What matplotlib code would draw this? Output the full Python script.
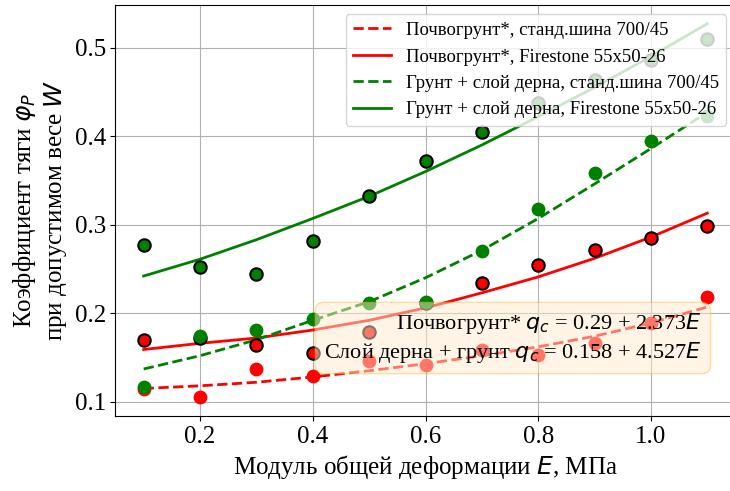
import matplotlib
matplotlib.use('Agg')
import matplotlib.pyplot as plt
import numpy as np

plt.rcParams['font.family'] = ['Liberation Serif', 'DejaVu Serif']

E = [0.1, 0.2, 0.3, 0.4, 0.5, 0.6, 0.7, 0.8, 0.9, 1.0, 1.1]

# измеренные точки
soil_std = [0.114, 0.105, 0.137, 0.129, 0.146, 0.141, 0.158, 0.153, 0.166, 0.189, 0.218]
soil_fs = [0.170, 0.172, 0.164, 0.155, 0.179, 0.212, 0.234, 0.254, 0.271, 0.285, 0.298]
turf_std = [0.117, 0.174, 0.181, 0.194, 0.211, 0.213, 0.270, 0.318, 0.358, 0.394, 0.423]
turf_fs = [0.277, 0.252, 0.244, 0.281, 0.332, 0.372, 0.405, 0.437, 0.463, 0.486, 0.510]

# аппроксимирующие кривые (значения в тех же точках E)
fit_soil_std = [0.115, 0.118, 0.122, 0.128, 0.135, 0.143, 0.152, 0.162, 0.174, 0.189, 0.207]
fit_soil_fs = [0.159, 0.166, 0.172, 0.181, 0.192, 0.206, 0.223, 0.241, 0.262, 0.286, 0.313]
fit_turf_std = [0.137, 0.152, 0.170, 0.192, 0.213, 0.240, 0.271, 0.307, 0.346, 0.386, 0.427]
fit_turf_fs = [0.242, 0.261, 0.283, 0.307, 0.332, 0.360, 0.390, 0.422, 0.455, 0.490, 0.527]

labels = ['Почвогрунт*, станд.шина 700/45',
          'Почвогрунт*, Firestone 55x50-26',
          'Грунт + слой дерна, станд.шина 700/45',
          'Грунт + слой дерна, Firestone 55x50-26']

fig = plt.figure(figsize=(7.3, 4.91), dpi=100)
ax = fig.add_axes([115.5/730, 75/491, 620/730, 411/491])

ax.plot(E, fit_soil_std, '--', color='red', lw=2, label=labels[0])
ax.plot(E, fit_soil_fs, '-', color='red', lw=2, label=labels[1])
ax.plot(E, fit_turf_std, '--', color='green', lw=2, label=labels[2])
ax.plot(E, fit_turf_fs, '-', color='green', lw=2, label=labels[3])

ax.scatter(E, soil_fs, s=80, color='red', edgecolors='black', linewidths=1.5, zorder=3)
ax.scatter(E, soil_std, s=80, color='red', zorder=3)
ax.scatter(E, turf_fs, s=80, color='green', edgecolors='black', linewidths=1.5, zorder=3)
ax.scatter(E, turf_std, s=80, color='green', zorder=3)

ax.set_xticks([0.2, 0.4, 0.6, 0.8, 1.0])
ax.set_yticks([0.1, 0.2, 0.3, 0.4, 0.5])
ax.tick_params(labelsize=18)
ax.grid(True)
ax.set_xlabel('Модуль общей деформации $E$, МПа', fontsize=18)
ax.set_ylabel('Коэффициент тяги $\\varphi_P$\nпри допустимом весе $W$', fontsize=18)

ax.legend(loc='upper right', fontsize=13.5)

txt = 'Почвогрунт* $q_c$ = 0.29 + 2.373$E$\nСлой дерна + грунт $q_c$ = 0.158 + 4.527$E$'
ax.text(1.09, 0.172, txt, fontsize=16, ha='right', va='center',
        multialignment='right', zorder=4,
        bbox=dict(boxstyle='round,pad=0.4', facecolor=(1, 0.92, 0.8, 0.5),
                  edgecolor=(1, 0.65, 0, 0.35)))

fig.savefig('out.png', dpi=100)
